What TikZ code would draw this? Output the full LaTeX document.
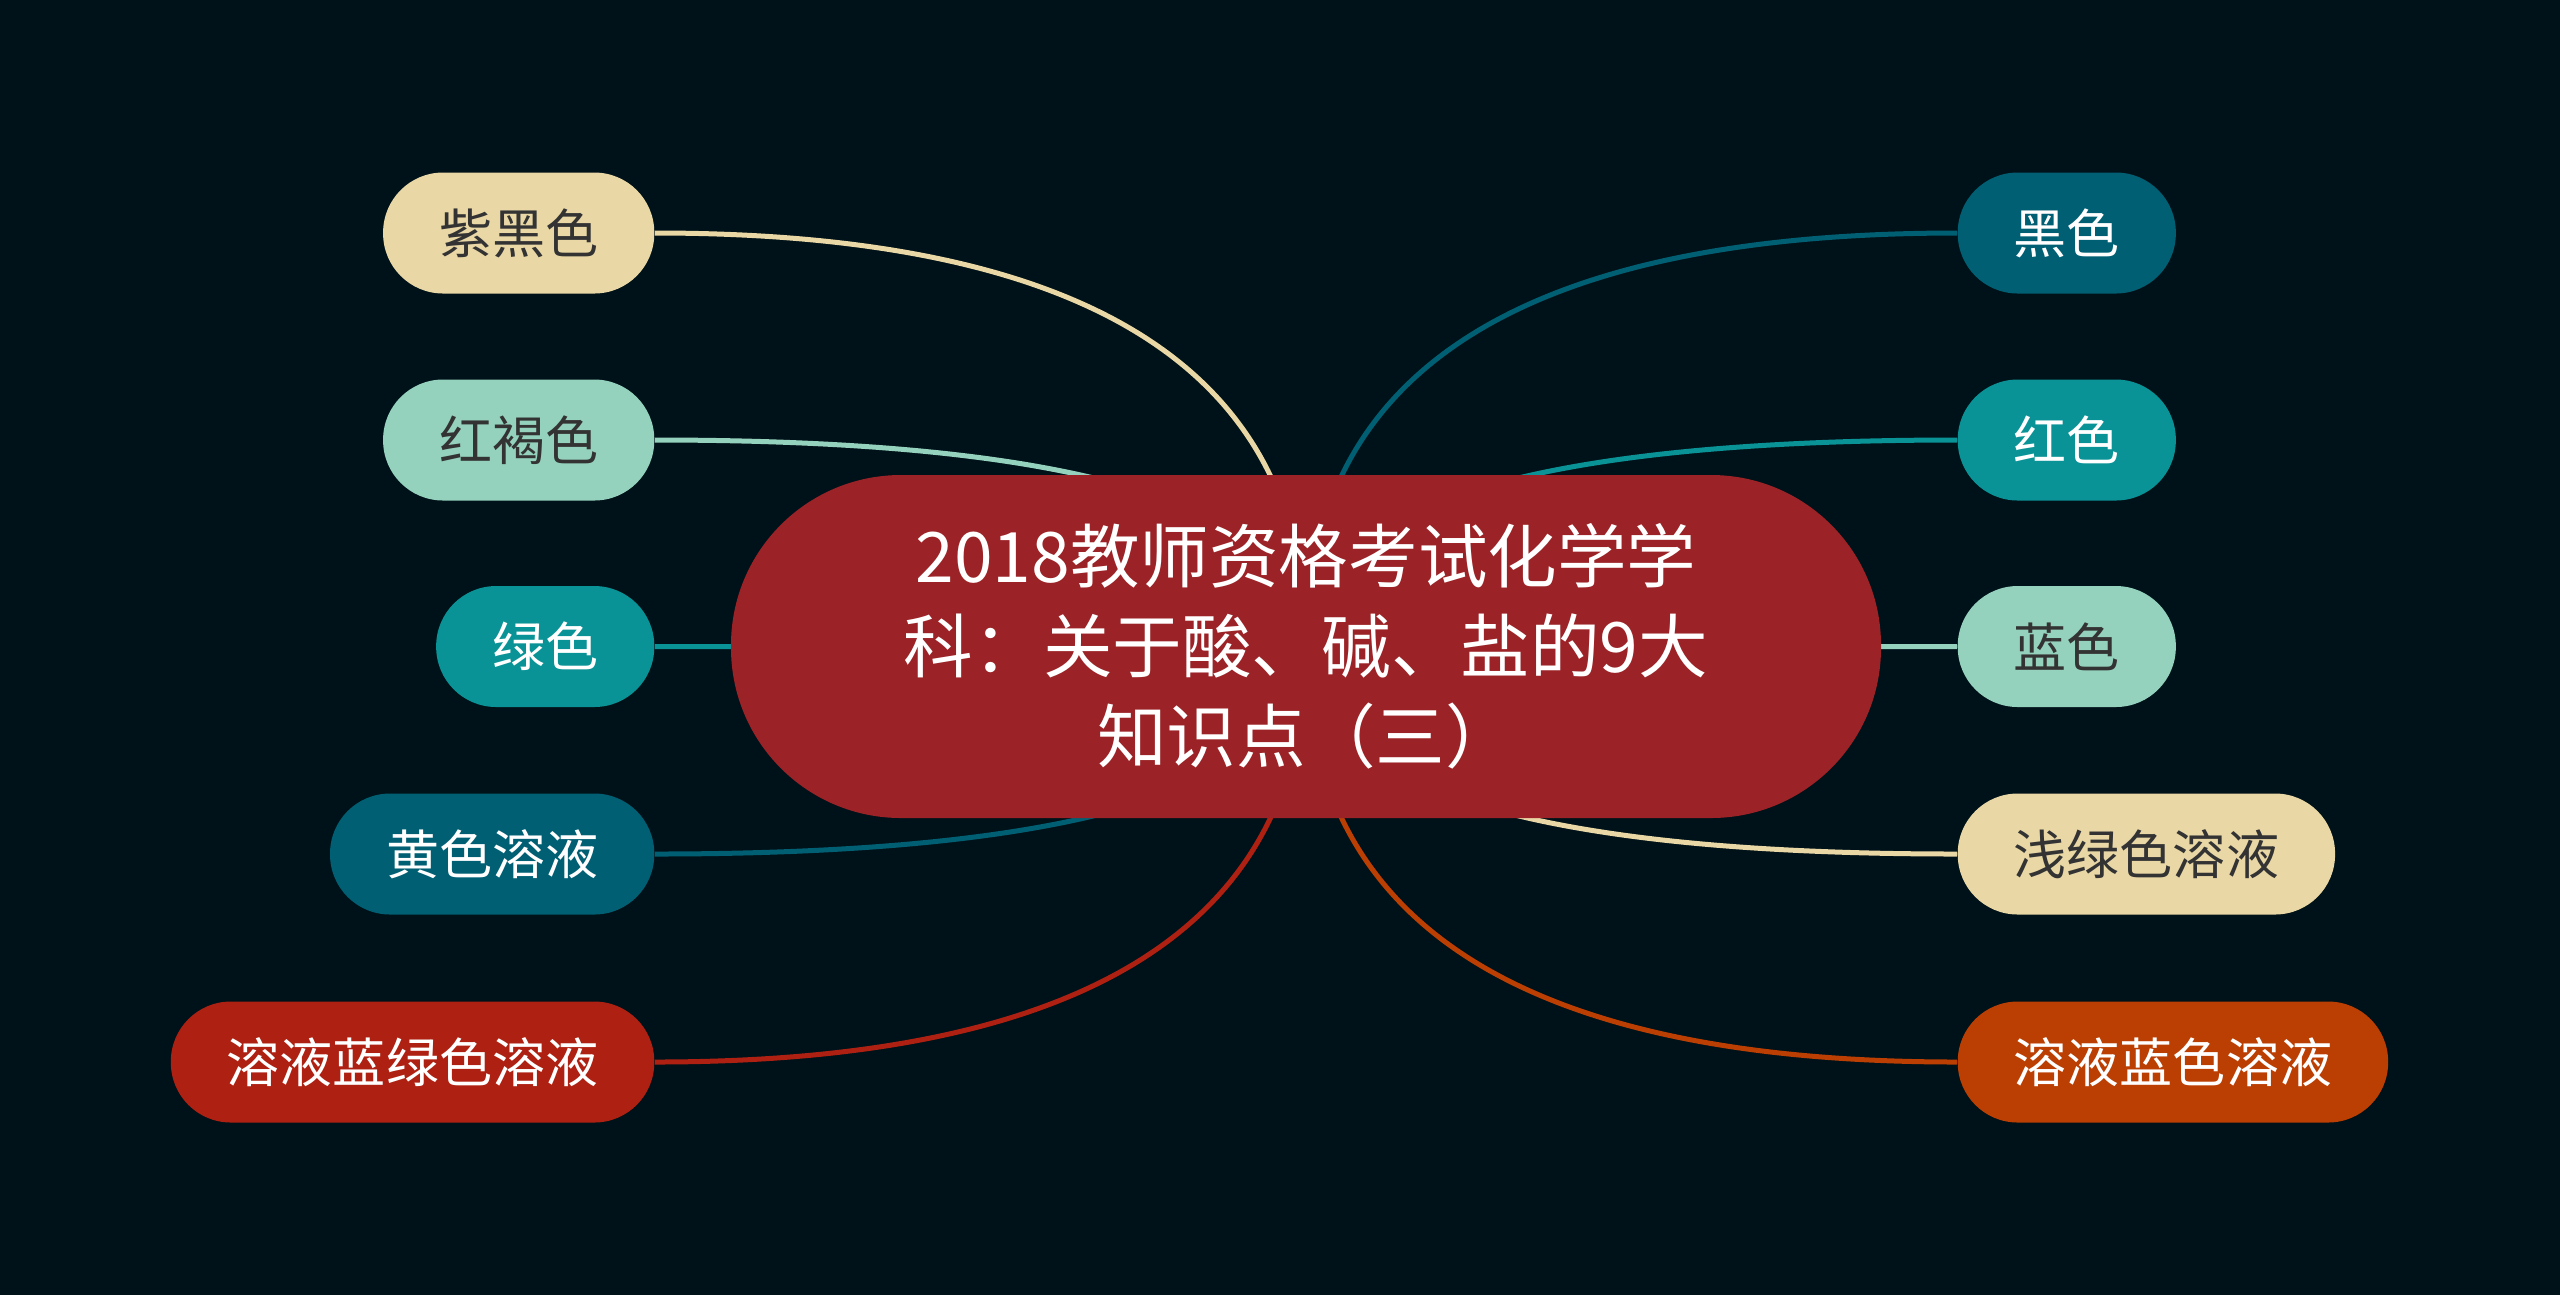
\documentclass[tikz,border=0pt]{standalone}
\usepackage{fontspec}
\newfontfamily\cjk{Noto Sans CJK SC}
\usetikzlibrary{calc,backgrounds}
\definecolor{bgnavy}{HTML}{001219}
\definecolor{rootred}{HTML}{9B2226}
\definecolor{cream}{HTML}{E9D8A6}
\definecolor{mint}{HTML}{94D2BD}
\definecolor{tealc}{HTML}{0A9396}
\definecolor{petrol}{HTML}{005F73}
\definecolor{brick}{HTML}{AE2012}
\definecolor{rust}{HTML}{BB3E03}
\definecolor{inkgray}{HTML}{333333}
\tikzstyle{root} = [
  rectangle, fill=rootred, rounded corners=1.7cm, minimum width=11.5cm,
  minimum height=3.43cm, align=center, text=white,
  font=\cjk\fontsize{19.8pt}{25.6pt}\selectfont
]
\tikzstyle{leaf} = [
  rectangle, rounded corners=0.6cm, minimum height=1.21cm,
  inner xsep=0.56cm, inner ysep=0pt, font=\cjk\fontsize{15.1pt}{18pt}\selectfont
]
\tikzstyle{leafdark} = [leaf, text=inkgray]
\tikzstyle{leaflight} = [leaf, text=white]
\tikzstyle{branch} = [
  line width=0.5mm,
  to path={.. controls ($(\tikztostart)!2/3!(\tikztotarget |- \tikztostart)$)
    and ($(\tikztotarget)!2/3!(\tikztotarget |- \tikztostart)$) .. (\tikztotarget)}
]

\begin{document}
\begin{tikzpicture}
    \useasboundingbox (0,0) rectangle (25.6,-12.95);
    \node[root] (core) at (13.06,-6.465) {2018教师资格考试化学学\\科：关于酸、碱、盐的9大\\知识点（三）};

    \node[leafdark, fill=cream, anchor=east] (zihei) at (6.55,-2.33) {紫黑色};
    \node[leafdark, fill=mint, anchor=east] (honghe) at (6.55,-4.40) {红褐色};
    \node[leaflight, fill=tealc, anchor=east] (lvse) at (6.55,-6.465) {绿色};
    \node[leaflight, fill=petrol, anchor=east] (huangye) at (6.55,-8.54) {黄色溶液};
    \node[leaflight, fill=brick, anchor=east] (lanlvye) at (6.55,-10.62) {溶液蓝绿色溶液};

    \node[leaflight, fill=petrol, anchor=west] (heise) at (19.57,-2.33) {黑色};
    \node[leaflight, fill=tealc, anchor=west] (hongse) at (19.57,-4.40) {红色};
    \node[leafdark, fill=mint, anchor=west] (lanse) at (19.57,-6.465) {蓝色};
    \node[leafdark, fill=cream, anchor=west] (qianlv) at (19.57,-8.54) {浅绿色溶液};
    \node[leaflight, fill=rust, anchor=west] (lanye) at (19.57,-10.62) {溶液蓝色溶液};

    \begin{pgfonlayer}{background}
    \fill[bgnavy] (0,0) rectangle (25.6,-12.95);
    \draw[branch, cream] (zihei.east) to (core.center);
    \draw[branch, mint] (honghe.east) to (core.center);
    \draw[branch, tealc] (lvse.east) to (core.center);
    \draw[branch, petrol] (huangye.east) to (core.center);
    \draw[branch, brick] (lanlvye.east) to (core.center);
    \draw[branch, petrol] (heise.west) to (core.center);
    \draw[branch, tealc] (hongse.west) to (core.center);
    \draw[branch, mint] (lanse.west) to (core.center);
    \draw[branch, cream] (qianlv.west) to (core.center);
    \draw[branch, rust] (lanye.west) to (core.center);
    \end{pgfonlayer}
\end{tikzpicture}
\end{document}
